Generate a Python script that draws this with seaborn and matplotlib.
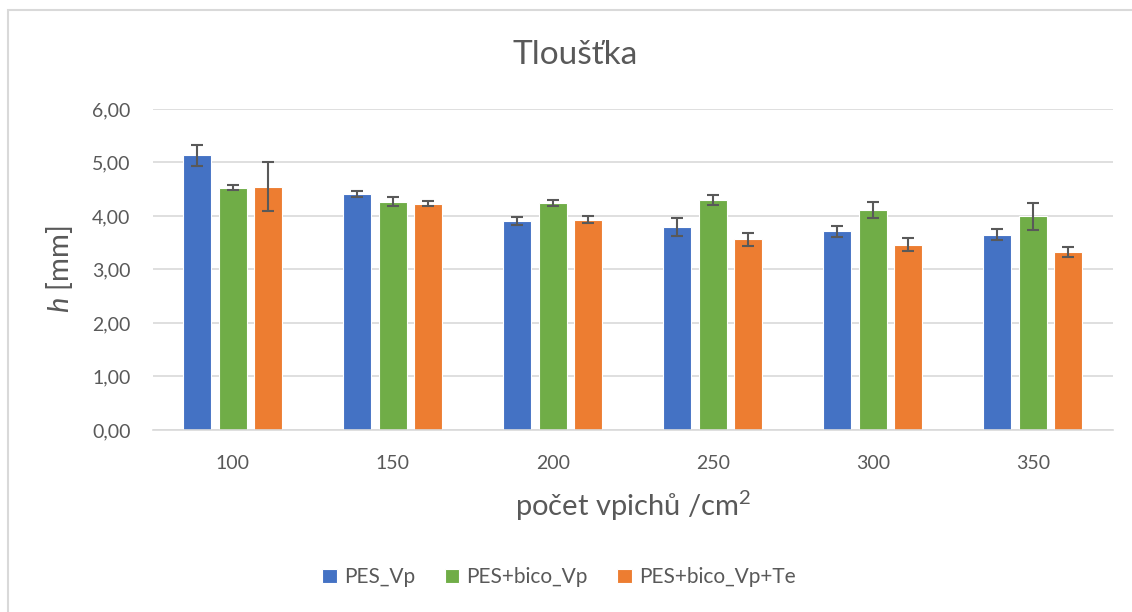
import matplotlib
matplotlib.use("Agg")
import matplotlib.pyplot as plt
import matplotlib.patches as mpatches
import numpy as np
import pandas as pd
import seaborn as sns

# Data
groups = ["100", "150", "200", "250", "300", "350"]
series = ["PES_Vp", "PES+bico_Vp", "PES+bico_Vp+Te"]
pes_vp = [5.13, 4.41, 3.91, 3.79, 3.71, 3.65]
pes_bico_vp = [4.53, 4.27, 4.24, 4.30, 4.12, 3.99]
pes_bico_vp_te = [4.55, 4.23, 3.93, 3.56, 3.46, 3.33]
err_pes_vp = [0.20, 0.055, 0.07, 0.17, 0.10, 0.10]
err_pes_bico_vp = [0.05, 0.09, 0.06, 0.09, 0.15, 0.25]
err_pes_bico_vp_te = [0.46, 0.05, 0.06, 0.12, 0.12, 0.09]
colors = ["#4472C4", "#70AD47", "#ED7D31"]

values = [pes_vp, pes_bico_vp, pes_bico_vp_te]
errors = [err_pes_vp, err_pes_bico_vp, err_pes_bico_vp_te]
df = pd.DataFrame({
    "group": groups * 3,
    "series": np.repeat(series, len(groups)),
    "h": np.concatenate(values),
})

sns.set_theme(style="white")
plt.rcParams["font.family"] = ["Lato", "DejaVu Sans"]
plt.rcParams["mathtext.fontset"] = "custom"
plt.rcParams["mathtext.rm"] = "Lato"
plt.rcParams["mathtext.it"] = "Lato:italic"
text_color = "#595959"
grid_color = "#D9D9D9"

fig = plt.figure(figsize=(11.32, 6.12), dpi=100)
# chart-area border (runs off the right and bottom edges)
fig.patches.append(mpatches.Rectangle((8 / 1132, -0.1), 1.2, (612 - 10) / 612 + 0.1,
                                      transform=fig.transFigure, fill=False,
                                      edgecolor=grid_color, linewidth=1.5))
ax = fig.add_axes([0.135, 0.2974, 0.848, 0.5246])

sns.barplot(df, x="group", y="h", hue="series", palette=colors, saturation=1,
            errorbar=None, width=0.666, gap=0.21, ax=ax,
            edgecolor="white", linewidth=0.8, zorder=2)

# error bars at the bar centres
for cont, err in zip(ax.containers, errors):
    xs = [p.get_x() + p.get_width() / 2 for p in cont.patches]
    ys = [p.get_height() for p in cont.patches]
    ax.errorbar(xs, ys, yerr=err, fmt="none", ecolor="#595959",
                elinewidth=1.5, capsize=4.5, capthick=1.5, zorder=3)

ax.set_ylim(0, 6)
ax.set_yticks(np.arange(0, 6.01, 1))
ax.set_yticklabels([f"{v:.2f}".replace(".", ",") for v in np.arange(0, 6.01, 1)])
ax.set_xlim(-0.5, len(groups) - 0.5)
ax.yaxis.grid(True, color=grid_color, linewidth=1.2, zorder=0)
ax.set_axisbelow(True)
for s in ["top", "right", "left"]:
    ax.spines[s].set_visible(False)
ax.spines["bottom"].set_color(grid_color)
ax.spines["bottom"].set_linewidth(1.2)
ax.tick_params(axis="both", colors=text_color, labelsize=14, length=0)
ax.tick_params(axis="y", pad=16)
ax.tick_params(axis="x", pad=18)

ax.set_xlabel("počet vpichů /cm$^2$", fontsize=21, color=text_color, labelpad=12)
ax.set_ylabel("$h$ [mm]", fontsize=21, color=text_color, labelpad=12)
fig.text(575 / 1132, 0.91, "Tloušťka", ha="center", va="center", fontsize=24,
         color=text_color)

handles, labels = ax.get_legend_handles_labels()
ax.legend(handles, labels, loc="center", bbox_to_anchor=(559 / 1132, 0.057),
          bbox_transform=fig.transFigure, ncol=3, frameon=False,
          fontsize=15, labelcolor=text_color, handlelength=0.7,
          handleheight=0.7, columnspacing=1.4, handletextpad=0.35)

fig.savefig("out.png", dpi=100)
